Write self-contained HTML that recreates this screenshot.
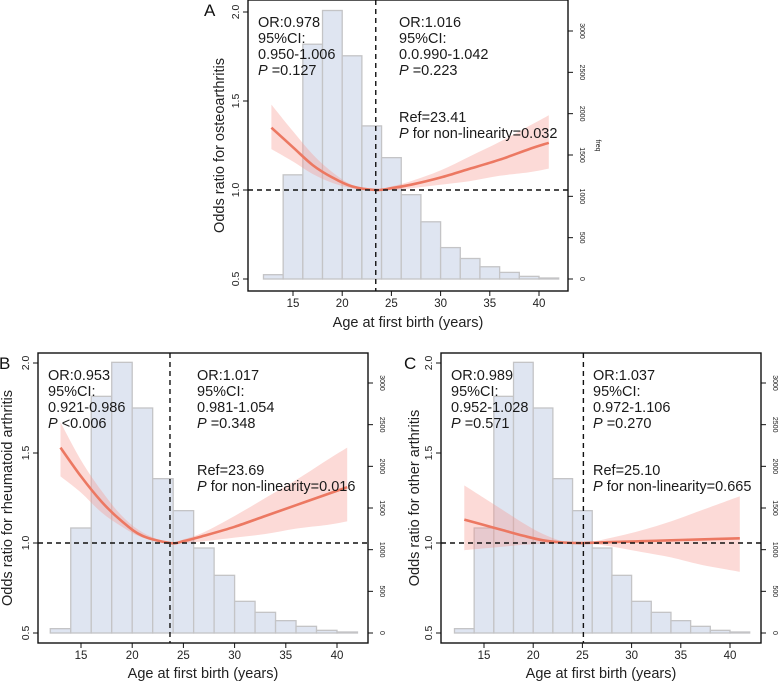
<!DOCTYPE html>
<html><head><meta charset="utf-8"><style>
html,body{margin:0;padding:0;background:#fff;}
svg{display:block;font-family:"Liberation Sans",Arial,sans-serif;}
</style></head><body>
<svg id="fig" width="778" height="681" viewBox="0 0 778 681" xmlns="http://www.w3.org/2000/svg"></svg>
<script>
// Shared histogram data
const binStarts = [12,14,16,18,20,22,24,26,28,30,32,34,36,38,40];
const binCounts = [52,1260,2840,3248,2700,1852,1468,1020,692,380,248,148,80,32,12];
const xTicks = [15,20,25,30,35,40];
const yTicks = [0.5,1.0,1.5,2.0];
const freqTicks = [0,500,1000,1500,2000,2500,3000];

// Panel A (osteoarthritis)
const aX = [12.8,15,17,19,21,23.41,25,27,30,33,36,39,41];
const aEst = [1.35,1.24,1.14,1.07,1.02,1.0,1.01,1.03,1.07,1.12,1.17,1.23,1.265];
const aLo = [1.23,1.16,1.09,1.04,1.01,1.0,1.0,1.01,1.03,1.05,1.08,1.10,1.12];
const aHi = [1.48,1.33,1.20,1.10,1.03,1.0,1.02,1.05,1.11,1.19,1.27,1.36,1.42];
const aRef = 23.41;
// Panel B (rheumatoid arthritis)
const bX = [13,15,17,19,21,23.69,25,27,30,33,36,39,41];
const bEst = [1.53,1.37,1.23,1.12,1.04,1.0,1.01,1.04,1.09,1.15,1.21,1.27,1.31];
const bLo = [1.37,1.28,1.17,1.09,1.03,1.0,1.0,1.01,1.03,1.05,1.08,1.10,1.12];
const bHi = [1.67,1.46,1.29,1.15,1.06,1.0,1.02,1.06,1.15,1.25,1.35,1.46,1.53];
const bRef = 23.69;
// Panel C (other arthritis)
const cX = [13,15,17,19,21,23,25.1,28,31,34,37,41];
const cEst = [1.13,1.10,1.07,1.04,1.015,1.003,1.0,1.005,1.01,1.015,1.02,1.026];
const cLo = [0.96,0.97,0.98,0.99,0.995,0.998,1.0,0.98,0.95,0.92,0.88,0.84];
const cHi = [1.32,1.25,1.18,1.11,1.05,1.01,1.0,1.03,1.07,1.12,1.18,1.26];
const cRef = 25.10;

const NS = "http://www.w3.org/2000/svg";
const svg = document.getElementById('fig');
function mk(tag, attrs, parent){
  const e = document.createElementNS(NS, tag);
  for (const k in attrs) e.setAttribute(k, attrs[k]);
  (parent||svg).appendChild(e);
  return e;
}
function smooth(p, start){
  let d = (start ? 'M' : 'L') + p[0][0].toFixed(1) + ' ' + p[0][1].toFixed(1);
  for (let i = 0; i < p.length - 1; i++){
    const p0 = p[i-1] || p[i], p1 = p[i], p2 = p[i+1], p3 = p[i+2] || p[i+1];
    const c1x = p1[0] + (p2[0]-p0[0])/6, c1y = p1[1] + (p2[1]-p0[1])/6;
    const c2x = p2[0] - (p3[0]-p1[0])/6, c2y = p2[1] - (p3[1]-p1[1])/6;
    d += ` C${c1x.toFixed(1)} ${c1y.toFixed(1)} ${c2x.toFixed(1)} ${c2y.toFixed(1)} ${p2[0].toFixed(1)} ${p2[1].toFixed(1)}`;
  }
  return d;
}

function panel(cfg){
  const g = mk('g', {});
  
  
  const sx = v => cfg.x15 + (v - 15) * (cfg.x40 - cfg.x15) / 25;
  const sy = v => cfg.y05 - (v - 0.5) * (cfg.y05 - cfg.y20) / 1.5;
  const sf = c => cfg.y05 - c * (cfg.y05 - cfg.f3000) / 3000;
  for (let i = 0; i < binStarts.length; i++){
    const x0 = sx(binStarts[i]), x1 = sx(binStarts[i] + 2), y = sf(binCounts[i]);
    const r = mk('rect', {x:x0, y:y, width:x1-x0, height:cfg.y05-y, fill:'#dfe5f1', stroke:'#c4c4c6', 'stroke-width':1.3}, g);
    
    
  }
  const hiPts = cfg.xs.map((v,i)=>[sx(v), sy(cfg.hi[i])]);
  const loPts = cfg.xs.map((v,i)=>[sx(v), sy(cfg.lo[i])]).reverse();
  const band = mk('path', {d:smooth(hiPts,true)+' '+smooth(loPts,false)+' Z', fill:'rgba(245,150,140,0.35)', stroke:'none'}, g);
  
  
  const estPts = cfg.xs.map((v,i)=>[sx(v), sy(cfg.est[i])]);
  const ln = mk('path', {d:smooth(estPts,true), fill:'none', stroke:'#ec7862', 'stroke-width':2.6, 'stroke-linejoin':'round'}, g);
  
  
  const hl = mk('line', {x1:cfg.L, x2:cfg.R, y1:sy(1), y2:sy(1), stroke:'#111', 'stroke-width':1.4, 'stroke-dasharray':'5,4'}, g);
  
  
  const vl = mk('line', {x1:sx(cfg.ref), x2:sx(cfg.ref), y1:cfg.T, y2:cfg.B, stroke:'#111', 'stroke-width':1.4, 'stroke-dasharray':'5,4'}, g);
  
  
  const box = mk('rect', {x:cfg.L, y:cfg.T, width:cfg.R-cfg.L, height:cfg.B-cfg.T, fill:'none', stroke:'#111', 'stroke-width':1.4}, g);
  
  
  xTicks.forEach(t=>{
    const x = sx(t);
    mk('line', {x1:x, x2:x, y1:cfg.B, y2:cfg.B+5, stroke:'#111', 'stroke-width':1}, g);
    const tx = mk('text', {x:x, y:cfg.B+16, 'font-size':11.5, 'text-anchor':'middle', fill:'#222'}, g);
    tx.textContent = t;
    
    
  });
  yTicks.forEach(t=>{
    const y = sy(t);
    mk('line', {x1:cfg.L-5, x2:cfg.L, y1:y, y2:y, stroke:'#111', 'stroke-width':1}, g);
    const tx = mk('text', {x:0, y:0, 'font-size':10.5, 'text-anchor':'middle', fill:'#222', transform:`translate(${cfg.L-9},${y}) rotate(-90)`}, g);
    tx.textContent = t.toFixed(1);
    
    
  });
  freqTicks.forEach(t=>{
    const y = sf(t);
    mk('line', {x1:cfg.R, x2:cfg.R+5, y1:y, y2:y, stroke:'#111', 'stroke-width':1}, g);
    const tx = mk('text', {x:0, y:0, 'font-size':7, 'text-anchor':'middle', fill:'#222', transform:`translate(${cfg.R+12},${y}) rotate(90)`}, g);
    tx.textContent = t;
    
    
  });
  if (cfg.freqLabel){
    const fl = mk('text', {x:0,y:0,'font-size':7,'text-anchor':'middle',fill:'#222',transform:`translate(${cfg.R+28},${(cfg.T+cfg.B)/2}) rotate(90)`}, g);
    fl.textContent = 'freq';
    
    
  }
  const xt = mk('text', {x:(cfg.L+cfg.R)/2, y:cfg.B+36, 'font-size':14.5, 'text-anchor':'middle', fill:'#222'}, g);
  xt.setAttribute('y', cfg.B + 36 - 0); 
  xt.setAttribute('y', cfg.xTitleY);
  xt.textContent = 'Age at first birth (years)';
  
  
  const yt = mk('text', {x:0, y:0, 'font-size':14.5, 'text-anchor':'middle', fill:'#222', transform:`translate(${cfg.yTitleX},${(cfg.T+cfg.B)/2}) rotate(-90)`}, g);
  yt.textContent = cfg.ytitle;
  
  
  const pl = mk('text', {x:cfg.letterX, y:cfg.T+16, 'font-size':17, fill:'#111'}, g);
  pl.textContent = cfg.id;
  
  
  function block(x, y, lines, name){
    const t = mk('text', {x:x, y:y, 'font-size':14.5, fill:'#1a1a1a'}, g);
    
    
    lines.forEach((l,i)=>{
      const ts = mk('tspan', {x:x, dy: i?16:0}, t);
      if (l.startsWith('P ')){
        const it = mk('tspan', {'font-style':'italic'}, ts); it.textContent = 'P';
        const rest = mk('tspan', {}, ts); rest.textContent = l.slice(1);
      } else ts.textContent = l;
    });
  }
  block(cfg.L+10, cfg.T+27, cfg.leftText, 'left-segment-stats');
  block(cfg.rtX, cfg.T+27, cfg.rightText, 'right-segment-stats');
  block(cfg.rtX, cfg.T+cfg.refY, cfg.refText, 'ref-nonlinearity-stats');
}

panel({id:'A', L:248, R:568, T:0, B:291, x15:293, x40:539, y05:279, y20:12, f3000:31,
  xs:aX, est:aEst, lo:aLo, hi:aHi, ref:aRef, ytitle:'Odds ratio for osteoarthritis', yTitleX:224, letterX:204, freqLabel:true,
  rtX:399, refY:122, xTitleY:327,
  leftText:['OR:0.978','95%CI:','0.950-1.006','P =0.127'],
  rightText:['OR:1.016','95%CI:','0.0.990-1.042','P =0.223'],
  refText:['Ref=23.41','P for non-linearity=0.032']});
panel({id:'B', L:38, R:368, T:353, B:643, x15:81, x40:337, y05:633, y20:363, f3000:383,
  xs:bX, est:bEst, lo:bLo, hi:bHi, ref:bRef, ytitle:'Odds ratio for rheumatoid arthritis', yTitleX:12, letterX:-1, freqLabel:false,
  rtX:197, refY:122, xTitleY:678,
  leftText:['OR:0.953','95%CI:','0.921-0.986','P <0.006'],
  rightText:['OR:1.017','95%CI:','0.981-1.054','P =0.348'],
  refText:['Ref=23.69','P for non-linearity=0.016']});
panel({id:'C', L:441, R:761, T:353, B:643, x15:484, x40:730, y05:633, y20:363, f3000:383,
  xs:cX, est:cEst, lo:cLo, hi:cHi, ref:cRef, ytitle:'Odds ratio for other arthritis', yTitleX:419, letterX:404, freqLabel:false,
  rtX:593, refY:122, xTitleY:678,
  leftText:['OR:0.989','95%CI:','0.952-1.028','P =0.571'],
  rightText:['OR:1.037','95%CI:','0.972-1.106','P =0.270'],
  refText:['Ref=25.10','P for non-linearity=0.665']});
</script>
</body></html>
